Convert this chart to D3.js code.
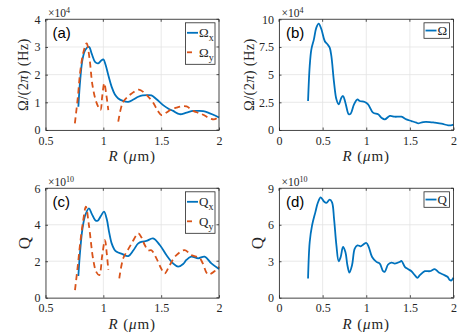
<!DOCTYPE html>
<html><head><meta charset="utf-8">
<script src="https://cdn.jsdelivr.net/npm/d3@7"></script>
<style>
body{margin:0;background:#fff;}
svg{display:block;}
svg text{font-family:"Liberation Serif","Times New Roman","DejaVu Serif",serif !important;fill:#262626;}
svg text.panel-label{font-family:"Liberation Sans",Arial,"DejaVu Sans",sans-serif !important;fill:#000;}
</style></head>
<body>
<svg id="chart" width="458" height="334"></svg>
<script>
// ---------------- DATA ----------------
// Panel (a): Omega_x and Omega_y (units of 1e4 Hz) vs R (um)
const R_Ox = [0.784,0.80,0.82,0.845,0.876,0.90,0.93,0.956,0.98,1.0,1.02,1.045,1.072,1.10,1.129,1.17,1.216,1.26,1.302,1.34,1.38,1.416,1.46,1.517,1.56,1.604,1.66,1.72,1.777,1.82,1.863,1.906,1.95,2.0];
const Omega_x = [0.84,1.8,2.55,2.9,3.0,2.75,2.45,2.41,2.5,2.55,2.35,1.95,1.56,1.28,1.14,1.05,1.02,1.1,1.2,1.25,1.26,1.25,1.11,0.9,0.78,0.69,0.57,0.63,0.69,0.69,0.68,0.63,0.55,0.45];
const R_Oy = [0.754,0.78,0.80,0.83,0.856,0.88,0.906,0.94,0.975,0.99,1.008,1.025,1.043,1.08,1.129,1.15,1.172,1.21,1.245,1.302,1.33,1.373,1.43,1.47,1.503,1.546,1.59,1.632,1.68,1.72,1.777,1.82,1.863,1.92,1.964,2.0];
const Omega_y = [0.24,1.2,2.1,2.85,3.13,2.6,1.62,1.0,0.72,1.2,1.69,1.3,0.72,null,0.3,0.75,1.02,1.2,1.32,1.46,1.42,1.27,0.99,0.7,0.54,0.63,0.75,0.81,0.86,0.85,0.69,0.62,0.55,0.42,0.39,0.49];

// Panel (b): Omega (units of 1e4 Hz)
const R_O = [0.333,0.352,0.371,0.40,0.428,0.455,0.486,0.524,0.555,0.581,0.60,0.631,0.658,0.684,0.715,0.734,0.761,0.80,0.822,0.86,0.899,0.925,0.983,1.021,1.078,1.136,1.174,1.212,1.27,1.327,1.403,1.46,1.518,1.575,1.595,1.652,1.729,1.786,1.862,1.939,1.97,2.0];
const Omega = [2.62,5.78,7.29,8.19,9.25,9.61,9.1,8.04,7.74,7.44,6.69,4.28,2.77,2.32,2.92,3.07,2.47,1.42,1.48,2.32,2.77,2.62,2.53,2.32,1.57,1.42,1.11,0.96,1.27,1.2,1.2,0.96,0.81,0.66,0.6,0.72,0.72,0.66,0.57,0.42,0.42,0.48];

// Panel (c): Q_x and Q_y (units of 1e10)
const R_Qx = [0.784,0.80,0.82,0.845,0.876,0.90,0.93,0.951,0.98,1.006,1.03,1.05,1.072,1.095,1.115,1.16,1.216,1.26,1.302,1.34,1.372,1.43,1.488,1.545,1.603,1.646,1.69,1.718,1.76,1.82,1.876,1.934,2.0];
const Q_x = [1.19,2.6,3.8,4.55,4.9,4.6,4.25,4.22,4.5,4.72,4.3,3.6,2.98,2.65,2.52,2.4,2.28,2.6,2.98,3.08,3.11,3.25,2.89,2.34,1.88,1.7,1.85,2.07,2.25,2.16,2.25,1.88,1.57];
const R_Qy = [0.755,0.78,0.80,0.825,0.849,0.875,0.913,0.94,0.965,0.99,1.014,1.03,1.043,1.09,1.138,1.172,1.21,1.245,1.302,1.33,1.358,1.387,1.416,1.459,1.50,1.531,1.574,1.632,1.704,1.76,1.833,1.86,1.905,1.963,2.0];
const Q_y = [0.42,1.8,3.0,4.2,4.99,4.0,2.07,1.4,1.24,2.3,3.16,2.4,1.52,null,1.06,2.16,2.6,2.98,3.53,3.3,2.89,2.6,2.6,2.16,1.6,1.33,1.79,2.34,2.61,2.34,2.16,1.88,1.28,1.46,1.7];

// Panel (d): Q (units of 1e10)
const R_Q = [0.333,0.352,0.379,0.417,0.447,0.478,0.516,0.543,0.581,0.608,0.631,0.658,0.684,0.707,0.734,0.761,0.784,0.807,0.837,0.868,0.899,0.937,0.964,1.002,1.029,1.067,1.117,1.155,1.193,1.212,1.25,1.289,1.327,1.384,1.403,1.442,1.48,1.518,1.556,1.587,1.614,1.671,1.729,1.786,1.832,1.881,1.931,1.958,1.977,2.0];
const Q = [1.58,4.58,5.95,7.04,7.85,8.26,7.91,7.8,8.07,7.85,6.49,4.31,3.0,3.35,4.17,3.76,2.67,2.07,2.67,4.04,4.31,4.23,4.36,4.5,4.17,3.35,2.95,2.81,2.18,2.13,2.73,2.89,2.81,2.95,3.03,2.54,2.35,2.18,1.85,1.64,1.85,2.18,2.18,2.35,2.07,1.91,1.72,1.45,1.42,1.64];

// Tick values
const xTicksAC = [0.5,1,1.5,2];
const xTicksBD = [0,0.5,1,1.5,2];
const yTicksA = [0,1,2,3,4];
const yTicksB = [0,2.5,5,7.5,10];
const yTicksC = [0,2,4,6];
const yTicksD = [0,3,6,9];

// ---------------- DRAW ----------------
const BLUE = "#0072BD", ORANGE = "#D95319";
const SERIF = '"Liberation Serif","Times New Roman","DejaVu Serif",serif';
const svg = d3.select("#chart");

const panels = [
  {lab:"(a)", box:[45.5,219,19.3,130], xd:[0.5,2], yd:[0,4], xt:xTicksAC, yt:yTicksA, exp:"4", ylab:"omega", ylabX:-23,
   series:[{r:R_Ox,v:Omega_x,c:BLUE,dash:null,name:"Ω",sub:"x"},{r:R_Oy,v:Omega_y,c:ORANGE,dash:"6,4",name:"Ω",sub:"y"}]},
  {lab:"(b)", box:[279,453.5,19.3,130], xd:[0,2], yd:[0,10], xt:xTicksBD, yt:yTicksB, exp:"4", ylab:"omega", ylabX:-30,
   series:[{r:R_O,v:Omega,c:BLUE,dash:null,name:"Ω",sub:null}]},
  {lab:"(c)", box:[45.5,219,188.3,297.7], xd:[0.5,2], yd:[0,6], xt:xTicksAC, yt:yTicksC, exp:"10", ylab:"Q", ylabX:-21,
   series:[{r:R_Qx,v:Q_x,c:BLUE,dash:null,name:"Q",sub:"x"},{r:R_Qy,v:Q_y,c:ORANGE,dash:"6,4",name:"Q",sub:"y"}]},
  {lab:"(d)", box:[279,453.5,188.3,297.7], xd:[0,2], yd:[0,9], xt:xTicksBD, yt:yTicksD, exp:"10", ylab:"Q", ylabX:-22,
   series:[{r:R_Q,v:Q,c:BLUE,dash:null,name:"Q",sub:null}]}
];

panels.forEach(p => {
  const [L,Rr,T,B] = p.box;
  const x = d3.scaleLinear().domain(p.xd).range([L,Rr]);
  const y = d3.scaleLinear().domain(p.yd).range([B,T]);
  const g = svg.append("g").attr("font-family",SERIF);

  // grid
  g.selectAll(".gx").data(p.xt).enter().append("line")
    .attr("x1",d=>x(d)).attr("x2",d=>x(d)).attr("y1",T).attr("y2",B)
    .attr("stroke","#e3e3e3").attr("stroke-width",0.8);
  g.selectAll(".gy").data(p.yt).enter().append("line")
    .attr("y1",d=>y(d)).attr("y2",d=>y(d)).attr("x1",L).attr("x2",Rr)
    .attr("stroke","#e3e3e3").attr("stroke-width",0.8);

  // data lines
  const clipId = "clip"+p.lab.replace(/[()]/g,"");
  svg.append("clipPath").attr("id",clipId).append("rect")
    .attr("x",L).attr("y",T-2).attr("width",Rr-L+1).attr("height",B-T+2);
  p.series.forEach(s => {
    const pts = s.r.map((r,i)=>[r,s.v[i]]);
    const line = d3.line().defined(d=>d[1]!==null)
      .x(d=>x(d[0])).y(d=>y(d[1])).curve(d3.curveCatmullRom.alpha(0.5));
    g.append("path").attr("d",line(pts)).attr("fill","none")
      .attr("stroke",s.c).attr("stroke-width",1.8)
      .attr("stroke-dasharray",s.dash).attr("clip-path","url(#"+clipId+")");
  });

  // axes (MATLAB style box with inward ticks)
  const xAx = d3.axisBottom(x).tickValues(p.xt).tickSizeInner(-2.5).tickSizeOuter(0).tickPadding(6).tickFormat(d3.format("~g"));
  const yAx = d3.axisLeft(y).tickValues(p.yt).tickSizeInner(-2.5).tickSizeOuter(0).tickPadding(5).tickFormat(d3.format("~g"));
  const ga = g.append("g").attr("transform",`translate(0,${B})`).call(xAx);
  const gb = g.append("g").attr("transform",`translate(${L},0)`).call(yAx);
  [ga,gb].forEach(a=>{
    a.attr("font-family",SERIF).attr("font-size",12);
    a.select(".domain").attr("stroke","#262626").attr("stroke-width",0.8);
    a.selectAll(".tick line").attr("stroke","#262626").attr("stroke-width",0.8);
    a.selectAll(".tick text").attr("font-family",SERIF).attr("font-size",12).attr("fill","#262626");
  });
  // top/right box lines
  g.append("line").attr("x1",L).attr("x2",Rr).attr("y1",T).attr("y2",T).attr("stroke","#262626").attr("stroke-width",0.8);
  g.append("line").attr("x1",Rr).attr("x2",Rr).attr("y1",T).attr("y2",B).attr("stroke","#262626").attr("stroke-width",0.8);
  // top/right ticks
  g.selectAll(".tt").data(p.xt).enter().append("line")
    .attr("x1",d=>x(d)).attr("x2",d=>x(d)).attr("y1",T).attr("y2",T+2.5).attr("stroke","#262626").attr("stroke-width",0.8);
  g.selectAll(".rt").data(p.yt).enter().append("line")
    .attr("y1",d=>y(d)).attr("y2",d=>y(d)).attr("x1",Rr).attr("x2",Rr-2.5).attr("stroke","#262626").attr("stroke-width",0.8);

  // exponent
  const ex = g.append("text").attr("x",L+2.5).attr("y",T-2).attr("font-size",11.5);
  ex.append("tspan").text("×10");
  ex.append("tspan").attr("dy",-4.5).attr("font-size",8).text(p.exp);

  // x label
  const xl = g.append("text").attr("x",(L+Rr)/2).attr("y",B+31).attr("text-anchor","middle")
    .attr("font-size",15).attr("letter-spacing",0.9);
  xl.append("tspan").attr("font-style","italic").text("R");
  xl.append("tspan").text(" (");
  xl.append("tspan").attr("font-style","italic").text("μ");
  xl.append("tspan").text("m)");

  // y label
  const yl = g.append("text").attr("transform",`translate(${L+p.ylabX},${(T+B)/2}) rotate(-90)`)
    .attr("text-anchor","middle").attr("dy","0.35em");
  if (p.ylab==="omega") {
    yl.attr("font-size",14.5).attr("letter-spacing",0.3);
    yl.append("tspan").text("Ω/(2");
    yl.append("tspan").attr("font-style","italic").text("π");
    yl.append("tspan").text(") (Hz)");
  } else {
    yl.attr("font-size",17).text("Q");
  }

  // panel label
  g.append("text").attr("class","panel-label").attr("x",L+7).attr("y",T+19)
    .attr("font-size",15).text(p.lab);

  // legend
  const two = p.series.length===2;
  const lw = two ? 29.5 : 25.5, lh = two ? 41.5 : 15.5;
  const lx = Rr-4-lw, ly = T+3.5;
  g.append("rect").attr("x",lx).attr("y",ly).attr("width",lw).attr("height",lh)
    .attr("fill","#fff").attr("stroke","#262626").attr("stroke-width",0.8);
  p.series.forEach((s,i)=>{
    const cy = two ? ly+10+i*19.5 : ly+lh/2;
    g.append("line").attr("x1",lx+1.5).attr("x2",lx+12.5).attr("y1",cy).attr("y2",cy)
      .attr("stroke",s.c).attr("stroke-width",1.8).attr("stroke-dasharray",s.dash?"5,6":null);
    const t = g.append("text").attr("x",lx+13.5).attr("y",cy+4.3).attr("font-size",13);
    t.append("tspan").text(s.name);
    if (s.sub) t.append("tspan").attr("dy",4).attr("font-size",10).text(s.sub);
  });
});
</script>
</body></html>
